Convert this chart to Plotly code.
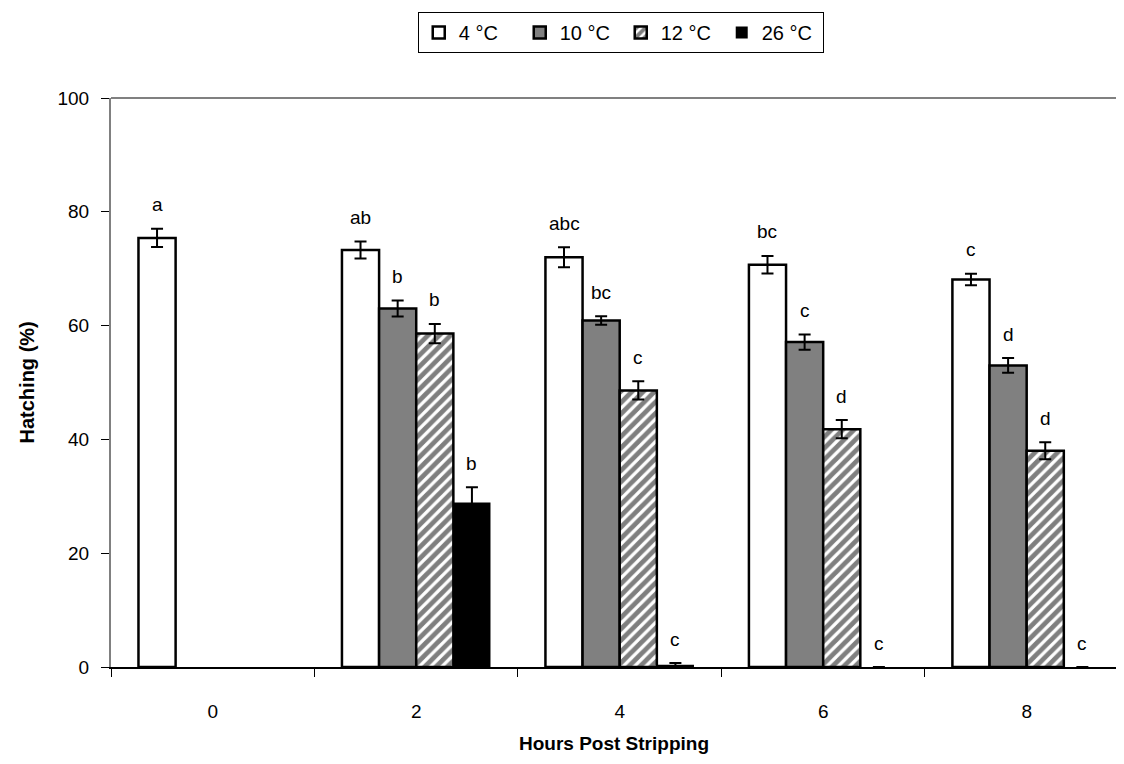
import plotly.graph_objects as go

hours = ["0", "2", "4", "6", "8"]
series_names = ["4 °C", "10 °C", "12 °C", "26 °C"]

v4 = [75.4, 73.3, 72.0, 70.7, 68.1]
e4 = [1.6, 1.5, 1.75, 1.55, 1.0]
v10 = [None, 63.0, 60.9, 57.1, 53.0]
e10 = [None, 1.4, 0.75, 1.35, 1.3]
v12 = [None, 58.6, 48.6, 41.8, 38.0]
e12 = [None, 1.7, 1.6, 1.6, 1.5]
v26 = [None, 28.9, 0.4, 0.0, 0.0]
e26 = [None, 2.7, 0.3, None, None]

lab4 = ["a", "ab", "abc", "bc", "c"]
lab10 = [None, "b", "bc", "c", "d"]
lab12 = [None, "b", "c", "d", "d"]
lab26 = [None, "b", "c", "c", "c"]

FONT = "Liberation Sans, Arial, sans-serif"

values = [v4, v10, v12, v26]
errors = [e4, e10, e12, e26]
labels = [lab4, lab10, lab12, lab26]

styles = [
    dict(color="white", line=dict(color="black", width=2.5)),
    dict(color="#808080", line=dict(color="black", width=2.5)),
    dict(color="white", line=dict(color="black", width=2.5),
         pattern=dict(shape="/", fgcolor="black", bgcolor="white", size=8, solidity=0.6)),
    dict(color="black", line=dict(color="black", width=0)),
]

fig = go.Figure()
for name, v, e, st in zip(series_names, values, errors, styles):
    fig.add_trace(go.Bar(
        x=hours, y=v, name=name, marker=st,
        error_y=dict(type="data", array=e, visible=True, color="black",
                     thickness=2, width=6),
    ))

bargap = 0.27
bw = (1 - bargap) / 4
offsets = [-1.5 * bw, -0.5 * bw, 0.5 * bw, 1.5 * bw]
for k in range(4):
    for i, h in enumerate(hours):
        lab = labels[k][i]
        if lab is None:
            continue
        top = (values[k][i] or 0) + (errors[k][i] or 0)
        fig.add_annotation(x=i + offsets[k], y=top, xref="x", yref="y",
                           text=lab, showarrow=False, yanchor="middle", yshift=24,
                           font=dict(family=FONT, size=19, color="black"))

# axis titles
fig.add_annotation(text="<b>Hours Post Stripping</b>", x=0.5, y=-0.1336, xref="paper", yref="paper",
                   showarrow=False, yanchor="middle", font=dict(family=FONT, size=19, color="black"))
fig.add_annotation(text="<b>Hatching (%)</b>", x=-0.0836, y=0.5, xref="paper", yref="paper",
                   showarrow=False, textangle=-90, xanchor="center",
                   font=dict(family=FONT, size=20, color="black"))

# top border
fig.add_shape(type="line", xref="paper", yref="paper", x0=0, x1=1, y0=1, y1=1,
              line=dict(color="#808080", width=2))

fig.update_layout(
    width=1108, height=748,
    margin=dict(l=103, r=0, t=90, b=89),
    plot_bgcolor="white", paper_bgcolor="white",
    barmode="group", bargap=bargap, bargroupgap=0,
    font=dict(family=FONT, size=18, color="black"),
    legend=dict(orientation="h", x=0.553, xanchor="center", xref="container",
                y=0.9947, yref="container", yanchor="top",
                bordercolor="black", borderwidth=1, bgcolor="white",
                font=dict(family=FONT, size=20, color="black"),
                itemwidth=30, entrywidth=56, entrywidthmode="pixels",
                traceorder="normal"),
    showlegend=True,
    xaxis=dict(type="category", tickson="boundaries", ticks="outside", ticklen=8,
               tickcolor="black", tickwidth=1, showline=True, linecolor="black", linewidth=2,
               showgrid=False, ticklabelstandoff=26, range=[-0.5, 4.439],
               tickfont=dict(family=FONT, size=19, color="black")),
    yaxis=dict(range=[0, 100], tickvals=[0, 20, 40, 60, 80, 100], ticks="outside", ticklen=8,
               tickcolor="black", tickwidth=1, showline=True, linecolor="#808080", linewidth=2,
               showgrid=False, zeroline=False, ticklabelstandoff=8,
               tickfont=dict(family=FONT, size=19, color="black")),
)

fig.write_html("out.html")
